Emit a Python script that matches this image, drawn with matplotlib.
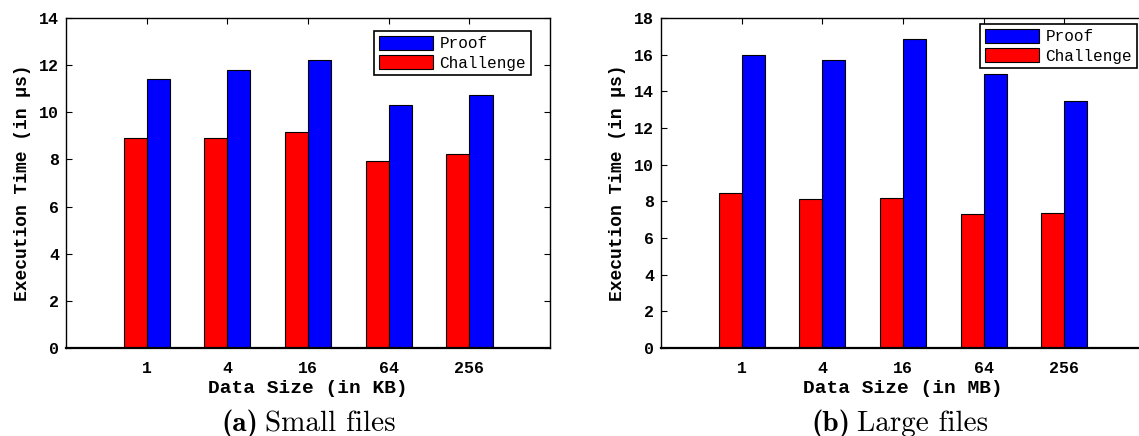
import numpy as np
import matplotlib.pyplot as plt

# data
sizes = ["1", "4", "16", "64", "256"]
small_proof = [11.4, 11.78, 12.2, 10.3, 10.73]
small_challenge = [8.9, 8.9, 9.15, 7.92, 8.22]
large_proof = [15.97, 15.69, 16.86, 14.93, 13.46]
large_challenge = [8.47, 8.11, 8.17, 7.29, 7.35]

MONO = "Liberation Mono"
BAR_W = 0.286


def draw_panel(ax, proof, challenge, ymax, xlabel):
    x = np.arange(1, len(sizes) + 1)
    ax.bar(x - BAR_W / 2, challenge, BAR_W, color="#ff0000",
           edgecolor="black", linewidth=0.8, label="Challenge")
    ax.bar(x + BAR_W / 2, proof, BAR_W, color="#0000ff",
           edgecolor="black", linewidth=0.8, label="Proof")
    ax.set_xlim(0, len(sizes) + 1)
    ax.set_ylim(0, ymax)
    ax.set_xticks(x)
    ax.set_xticklabels(sizes)
    ax.set_yticks(np.arange(0, ymax + 1, 2))
    ax.tick_params(direction="in", top=True, right=True, length=4,
                   labelsize=12)
    ax.tick_params(axis="x", pad=9)
    ax.tick_params(axis="y", pad=5)
    for lab in ax.get_xticklabels() + ax.get_yticklabels():
        lab.set_fontfamily(MONO)
        lab.set_fontweight("bold")
    for sp in ax.spines.values():
        sp.set_linewidth(1.0)
    ax.spines["bottom"].set_linewidth(1.6)
    ax.set_xlabel(xlabel, fontfamily=MONO, fontweight="bold", fontsize=14,
                  labelpad=3)
    ax.set_ylabel("Execution Time (in \u03bcs)", fontfamily=MONO,
                  fontweight="bold", fontsize=13, labelpad=6)


def add_legend(ax, anchor):
    handles, labels = ax.get_legend_handles_labels()
    leg = ax.legend(handles[::-1], labels[::-1], loc="upper right",
                    bbox_to_anchor=anchor, bbox_transform=ax.figure.transFigure,
                    prop={"family": MONO, "size": 11.5},
                    fancybox=False, framealpha=1, edgecolor="black",
                    handlelength=3.4, handleheight=1.0, handletextpad=0.4,
                    borderpad=0.3, labelspacing=0.22, borderaxespad=0)
    leg.get_frame().set_linewidth(1.2)


def caption(fig, x, tag, text):
    fig.text(x - 3 / 1139, 5 / 436, tag, ha="right", va="baseline",
             fontfamily="cmb10", fontsize=21)
    fig.text(x + 4 / 1139, 5 / 436, text, ha="left", va="baseline",
             fontfamily="cmr10", fontsize=21)


def main():
    fig = plt.figure(figsize=(11.39, 4.36), dpi=100)

    ax1 = fig.add_axes([0.058, 0.2018, 0.425, 0.7569])
    draw_panel(ax1, small_proof, small_challenge, 14, "Data Size (in KB)")
    add_legend(ax1, (531 / 1139, 1 - 31 / 436))

    ax2 = fig.add_axes([0.5803, 0.2018, 0.425, 0.7569])
    draw_panel(ax2, large_proof, large_challenge, 18, "Data Size (in MB)")
    add_legend(ax2, (1137 / 1139, 1 - 24 / 436))

    caption(fig, 261 / 1139, "(a)", "Small files")
    caption(fig, 853 / 1139, "(b)", "Large files")

    fig.savefig("out.png", dpi=100)


if __name__ == "__main__":
    main()
